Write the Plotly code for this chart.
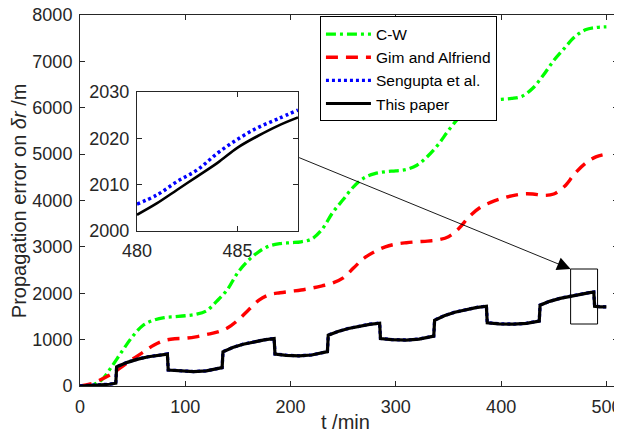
import plotly.graph_objects as go

# ---- data ----
t_cw = [0, 10, 20, 30, 40, 50, 60, 70, 80, 90, 100, 110, 120, 130, 140, 150, 160, 170, 180, 190,
        200, 210, 220, 230, 240, 250, 260, 270, 280, 290, 300, 310, 320, 330, 340, 350, 360, 370,
        380, 390, 400, 410, 420, 430, 440, 450, 460, 470, 480, 490, 500]
cw = [0, 10, 120, 415, 750, 1070, 1310, 1420, 1475, 1495, 1515, 1545, 1620, 1830, 2080, 2450, 2710,
      2900, 3020, 3070, 3090, 3110, 3170, 3380, 3740, 4020, 4300, 4490, 4580, 4620, 4640, 4670, 4760,
      4950, 5200, 5510, 5790, 5990, 6110, 6160, 6180, 6200, 6250, 6420, 6700, 7020, 7280, 7530, 7680,
      7730, 7745]

t_ga = t_cw
ga = [0, 45, 140, 260, 420, 580, 730, 880, 980, 1020, 1030, 1060, 1110, 1160, 1250, 1420, 1640, 1850,
      1970, 2010, 2040, 2070, 2110, 2160, 2220, 2330, 2550, 2760, 2900, 3000, 3060, 3090, 3110, 3125,
      3150, 3220, 3400, 3660, 3850, 3960, 4040, 4100, 4140, 4140, 4110, 4140, 4300, 4580, 4800, 4940,
      5000]

t_tp = [0, 10, 20, 28, 34.0, 34.8, 45, 55, 65, 75, 83.0, 83.8, 95, 108, 120, 130, 135.0, 135.8, 145,
        155, 165, 175, 184.4, 185.2, 196, 208, 220, 230, 235.0, 235.8, 245, 255, 265, 275, 284.6, 285.4,
        296, 310, 322, 331, 336.0, 336.8, 346, 356, 366, 376, 386.0, 386.8, 398, 412, 424, 432, 436.2,
        437.0, 446, 456, 466, 474, 480, 484, 488.0, 488.8, 494, 500]
tp = [0, 8, 20, 38, 60, 415, 510, 580, 630, 665, 688, 344, 320, 308, 325, 365, 395, 738, 830, 900, 955,
      995, 1025, 688, 662, 650, 668, 705, 740, 1097, 1175, 1240, 1290, 1330, 1355, 1025, 1000, 989, 1010,
      1050, 1075, 1419, 1515, 1590, 1645, 1690, 1720, 1362, 1340, 1333, 1350, 1380, 1400, 1742, 1825,
      1890, 1940, 1975, 2003.5, 2014.7, 2024.5, 1720, 1708, 1706]

t_sg = t_tp
sg = [2, 10, 22, 40, 62, 417, 512, 582, 632, 667, 690, 346, 322, 310, 327, 367, 397, 740, 832, 902, 957,
      997, 1027, 690, 664, 652, 670, 707, 742, 1099, 1177, 1242, 1292, 1332, 1357, 1027, 1002, 991, 1012,
      1052, 1077, 1421, 1517, 1592, 1647, 1692, 1722, 1364, 1342, 1335, 1352, 1382, 1402, 1744, 1827,
      1892, 1942, 1977, 2005.8, 2016.8, 2026.1, 1722, 1710, 1708]

# zoomed inset (t = 480 ... 488 min)
t_inset = [480, 481, 482, 483, 484, 485, 486, 487, 488]
tp_inset = [2003.5, 2006.0, 2008.9, 2011.8, 2014.7, 2018.0, 2020.5, 2022.7, 2024.5]
sg_inset = [2005.8, 2007.8, 2010.7, 2013.2, 2016.8, 2019.8, 2022.3, 2024.2, 2026.1]

names = ["C-W", "Gim and Alfriend", "Sengupta et al.", "This paper"]

xticks_main = [0, 100, 200, 300, 400, 500]
yticks_main = [0, 1000, 2000, 3000, 4000, 5000, 6000, 7000, 8000]
xticks_inset = [480, 485]
yticks_inset = [2000, 2010, 2020, 2030]

AX = "#262626"
FONT = "Liberation Sans, Arial, sans-serif"

fig = go.Figure()

fig.add_trace(go.Scatter(x=t_cw, y=cw, name=names[0], mode="lines", line_shape="spline",
                         line=dict(color="#00FF00", width=3.3, dash="10px,4px,3px,4px")))
fig.add_trace(go.Scatter(x=t_ga, y=ga, name=names[1], mode="lines", line_shape="spline",
                         line=dict(color="#FF0000", width=3.4, dash="12px,8px")))
fig.add_trace(go.Scatter(x=t_sg, y=sg, name=names[2], mode="lines",
                         line=dict(color="#0000FF", width=3.3, dash="3px,3px")))
fig.add_trace(go.Scatter(x=t_tp, y=tp, name=names[3], mode="lines",
                         line=dict(color="black", width=3.2)))

# inset
fig.add_trace(go.Scatter(x=t_inset, y=sg_inset, mode="lines", showlegend=False, xaxis="x2", yaxis="y2",
                         line_shape="spline", line=dict(color="#0000FF", width=3.5, dash="3px,3px")))
fig.add_trace(go.Scatter(x=t_inset, y=tp_inset, mode="lines", showlegend=False, xaxis="x2", yaxis="y2",
                         line_shape="spline", line=dict(color="black", width=2.6)))

axis_common = dict(showline=True, linecolor=AX, linewidth=1, mirror="ticks", ticks="inside",
                   ticklen=5, tickcolor=AX, tickwidth=1, showgrid=False, zeroline=False,
                   automargin=False, ticklabeloverflow="allow",
                   tickfont=dict(family=FONT, size=18, color=AX))

# the page body adds an 8px offset; the figure is sized to fill the rest of the window
fig.update_layout(
    width=614, height=425,
    margin=dict(l=72, r=4, t=7, b=47),
    paper_bgcolor="white", plot_bgcolor="white",
    showlegend=True,
    xaxis=dict(range=[0, 511], tickvals=xticks_main, domain=[0, 1], ticklabelstandoff=4, **axis_common),
    yaxis=dict(range=[0, 8000], tickvals=yticks_main, domain=[0, 1], ticklabelstandoff=3, **axis_common),
    xaxis2=dict(range=[480, 488], tickvals=xticks_inset, domain=[0.1059, 0.4052], anchor="y2",
                ticklabelstandoff=3, **axis_common),
    yaxis2=dict(range=[2000, 2030], tickvals=yticks_inset, domain=[0.4178, 0.7925], anchor="x2",
                ticklabelstandoff=3, **axis_common),
    legend=dict(x=0.446, y=0.996, xanchor="left", yanchor="top", bgcolor="white",
                bordercolor="black", borderwidth=1, itemwidth=45,
                font=dict(family=FONT, size=15.5, color="black"), tracegroupgap=0),
    shapes=[dict(type="rect", xref="x", yref="y", x0=466.0, x1=491.6, y0=1337, y1=2523,
                 line=dict(color="black", width=1))],
    annotations=[
        dict(x=466.0, y=2523, xref="x", yref="y", ax=206.7, ay=4938, axref="x", ayref="y",
             showarrow=True, arrowhead=2, arrowsize=3, arrowwidth=0.9, arrowcolor="black", text=""),
        dict(x=0.4926, y=-0.097, xref="paper", yref="paper", text="t /min", showarrow=False,
             xanchor="center", yanchor="middle", font=dict(family=FONT, size=20, color=AX)),
        dict(x=-0.114, y=0.5, xref="paper", yref="paper", text="Propagation error on <i>δr</i> /m",
             textangle=-90, showarrow=False, xanchor="center", yanchor="middle",
             font=dict(family=FONT, size=20, color=AX)),
    ],
)

fig.write_html("out.html")
